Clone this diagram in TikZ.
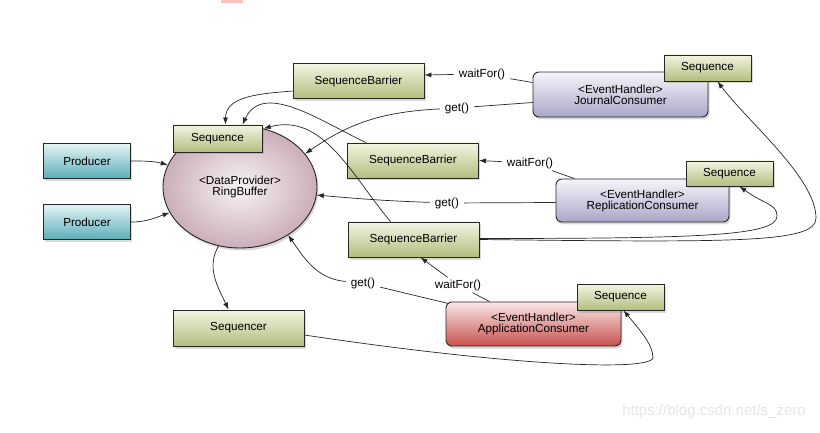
\documentclass[tikz,border=0pt]{standalone}
\usepackage{fontspec}
\setmainfont{Liberation Sans}
\usetikzlibrary{shapes.geometric,shadows,arrows.meta}

\definecolor{greentop}{HTML}{F3F5E2}
\definecolor{greenbot}{HTML}{B3BD7E}
\definecolor{tealtop}{HTML}{E4F4F5}
\definecolor{tealbot}{HTML}{5BAEB8}
\definecolor{lavtop}{HTML}{F5F5FB}
\definecolor{lavbot}{HTML}{A9A7C8}
\definecolor{redtop}{HTML}{F9E8E8}
\definecolor{redbot}{HTML}{C8524E}
\definecolor{ringin}{HTML}{F7F3F5}
\definecolor{ringout}{HTML}{CBAEBA}

\begin{document}
\begin{tikzpicture}[x=1pt, y=1pt,
    font=\fontsize{11.7}{11}\selectfont,
    box/.style={draw=black!85, line width=0.9pt, align=center, inner sep=0pt,
        drop shadow={shadow xshift=1.5pt, shadow yshift=-2.5pt, opacity=0.3}},
    greenbox/.style={box, top color=greentop, bottom color=greenbot},
    prodbox/.style={box, top color=tealtop, bottom color=tealbot,
        minimum width=87, minimum height=35},
    barrier/.style={greenbox, minimum width=131, minimum height=35},
    seqbox/.style={greenbox, minimum width=87, minimum height=26},
    consumer/.style={box, rounded corners=6pt, top color=lavtop, bottom color=lavbot,
        minimum width=175, minimum height=45},
    lbl/.style={inner xsep=5pt, inner ysep=2pt},
    line/.style={line width=0.7pt, black!85},
    arr/.style={line, -{Latex[length=7pt, width=5pt]}}]

    \useasboundingbox (0,0) rectangle (820,-433);
    \fill[red!25] (221,0) rectangle (243,-3);

    % producers and the ring buffer
    \node[prodbox] (prod1) at (87,-161) {Producer};
    \node[prodbox] (prod2) at (87,-222) {Producer};
    \node[ellipse, box, minimum width=154, minimum height=122,
        inner color=ringin, outer color=ringout] (rb) at (240,-187)
        {<DataProvider>\\RingBuffer};
    \node[seqbox, minimum width=89, minimum height=27] (rbseq) at (217.5,-138.5) {Sequence};
    \node[greenbox, minimum width=131, minimum height=36] (seqr) at (238.5,-328) {Sequencer};

    % barriers
    \node[barrier] (sb1) at (358.5,-81) {SequenceBarrier};
    \node[barrier] (sb2) at (413,-160.5) {SequenceBarrier};
    \node[barrier] (sb3) at (413.5,-239.5) {SequenceBarrier};

    % consumers
    \node[consumer] (jc) at (620.5,-94.5) {<EventHandler>\\JournalConsumer};
    \node[seqbox] (jcseq) at (707.5,-68) {Sequence};
    \node[consumer, minimum width=173, minimum height=43] (rc) at (642.5,-200.5)
        {<EventHandler>\\ReplicationConsumer};
    \node[seqbox, minimum height=25] (rcseq) at (729.5,-173.5) {Sequence};
    \node[consumer, top color=redtop, bottom color=redbot, minimum height=44] (ac)
        at (533.5,-324) {<EventHandler>\\ApplicationConsumer};
    \node[seqbox] (acseq) at (620.5,-297) {Sequence};

    % call labels
    \node[lbl] (wf1) at (482,-74) {waitFor()};
    \node[lbl] (g1) at (457,-108) {get()};
    \node[lbl] (wf2) at (530,-163) {waitFor()};
    \node[lbl] (g2) at (447,-203) {get()};
    \node[lbl] (wf3) at (458,-285) {waitFor()};
    \node[lbl] (g3) at (363,-283) {get()};

    \draw[arr] (prod1.east) to[out=0, in=165] (rb.163);
    \draw[arr] (prod2.east) to[out=0, in=200] (rb.200);
    \draw[arr] (rb.-110) to[out=-120, in=115] ([xshift=-10pt]seqr.north);

    \draw[arr] ([yshift=-10pt]sb1.west) to[out=185, in=90] ([xshift=8pt]rbseq.north);
    \draw[arr] ([xshift=-47pt]sb2.north) to[out=155, in=65] ([xshift=25pt]rbseq.north);
    \draw[arr] ([xshift=-23pt]sb3.north) to[out=130, in=15] (rb.68);

    \draw[line] ([yshift=12pt]jc.west) -- (wf1);
    \draw[arr] (wf1) -- ([yshift=6pt]sb1.east);
    \draw[line] ([yshift=-8pt]jc.west) -- (g1);
    \draw[arr] (g1) to[out=183, in=35] (rb.27);

    \draw[line] ([xshift=-68pt]rc.north) -- (wf2);
    \draw[arr] (wf2) -- (sb2.east);
    \draw[line] ([yshift=-2pt]rc.west) -- (g2);
    \draw[arr] (g2) to[out=178, in=-5] (rb.-6);

    \draw[line] ([xshift=-44pt]ac.north) -- (wf3);
    \draw[arr] (wf3) -- ([xshift=7pt]sb3.south);
    \draw[line] ([xshift=3pt, yshift=-2pt]ac.north west) -- (g3);
    \draw[arr] (g3) to[out=175, in=-55] (rb.-45);

    % sequences tracked by the barriers
    \coordinate (rcloop) at (777,-216);
    \coordinate (jcloop) at (816,-218);
    \coordinate (acloop) at (653,-358);
    \draw[arr] ([yshift=1pt]sb3.east) .. controls +(220,0) and +(0,-20) .. (rcloop)
        .. controls +(0,12) and +(25,-18) .. ([xshift=10pt]rcseq.south);
    \draw[arr] (sb3.east) .. controls +(260,-3) and +(0,-25) .. (jcloop)
        .. controls +(0,40) and +(30,-40) .. ([xshift=10pt]jcseq.south);
    \draw[arr] ([yshift=-7pt]seqr.east) .. controls +(200,-30) and +(-5,-14) .. (acloop)
        .. controls +(0,14) and +(15,-18) .. ([xshift=3pt]acseq.south);

    \node[text=black!10, font=\fontsize{15}{15}\selectfont] (mark) at (714,-412)
        {https://blog.csdn.net/s\_zero};
\end{tikzpicture}
\end{document}
